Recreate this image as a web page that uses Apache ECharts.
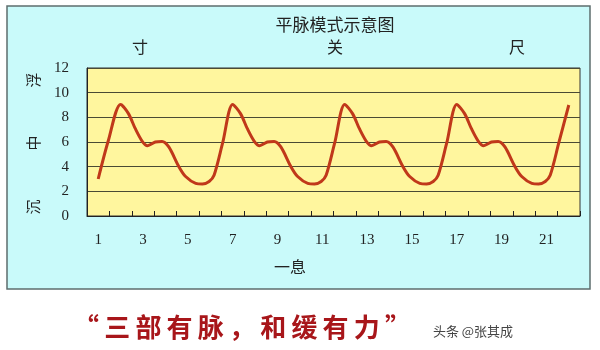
<!DOCTYPE html>
<html>
<head>
<meta charset="utf-8">
<script src="https://cdn.jsdelivr.net/npm/echarts@6/dist/echarts.min.js"></script>
<style>html,body{margin:0;padding:0;background:#fff;}#c{width:600px;height:350px;}</style>
</head>
<body>
<div id="c"></div>
<script>
var categories = ['1','2','3','4','5','6','7','8','9','10','11','12','13','14','15','16','17','18','19','20','21','22'];
var yTicks = {min: 0, max: 12, interval: 2};
var titleText = '平脉模式示意图';
var positionLabels = ['寸', '关', '尺'];
var depthLabels = ['浮', '中', '沉'];
var xName = '一息';
var motto = '“三部有脉，和缓有力”';
var watermark = '头条 @张其成';
// pulse curve: [beat position, value]
var pulsePoints = [
  [1.0,3.0],[1.45,6.1],[2.0,9.05],[2.35,8.3],[2.65,7.1],[2.95,6.1],[3.2,5.7],[3.55,6.0],[3.85,6.05],[4.15,5.6],[4.6,4.0],[4.9,3.2],[5.35,2.65],[5.65,2.6],[5.95,2.8],[6.17,3.3],[6.55,5.9],
  [7.0,9.05],[7.35,8.3],[7.65,7.1],[7.95,6.1],[8.2,5.7],[8.55,6.0],[8.85,6.05],[9.15,5.6],[9.6,4.0],[9.9,3.2],[10.35,2.65],[10.65,2.6],[10.95,2.8],[11.17,3.3],[11.55,5.9],
  [12.0,9.05],[12.35,8.3],[12.65,7.1],[12.95,6.1],[13.2,5.7],[13.55,6.0],[13.85,6.05],[14.15,5.6],[14.6,4.0],[14.9,3.2],[15.35,2.65],[15.65,2.6],[15.95,2.8],[16.17,3.3],[16.55,5.9],
  [17.0,9.05],[17.35,8.3],[17.65,7.1],[17.95,6.1],[18.2,5.7],[18.55,6.0],[18.85,6.05],[19.15,5.6],[19.6,4.0],[19.9,3.2],[20.35,2.65],[20.65,2.6],[20.95,2.8],[21.17,3.3],[21.55,5.9],
  [22.0,9.0]
];

var chart = echarts.init(document.getElementById('c'), null, {renderer: 'canvas'});
var cjk = '"Noto Sans CJK SC", sans-serif';
var serif = '"Liberation Serif", "DejaVu Serif", serif';

function txt(t, x, y, size, extra) {
  var o = {type: 'text', x: x, y: y, z: 10, style: {text: t, fill: '#222', font: size + 'px ' + cjk, textAlign: 'center', textVerticalAlign: 'middle'}};
  if (extra) { for (var k in extra) o[k] = extra[k]; }
  return o;
}

var graphics = [
  {type: 'rect', shape: {x: 7, y: 6, width: 583, height: 283}, style: {fill: '#C9FAFA', stroke: '#5E6E6E', lineWidth: 1.5}, z: -10, silent: true},
  txt(titleText, 335, 25, 17),
  txt(positionLabels[0], 140, 47, 16),
  txt(positionLabels[1], 335, 47, 16),
  txt(positionLabels[2], 517, 47, 16),
  txt(depthLabels[0], 33, 80, 15, {rotation: Math.PI / 2}),
  txt(depthLabels[1], 33, 143, 15, {rotation: Math.PI / 2}),
  txt(depthLabels[2], 33, 207, 15, {rotation: Math.PI / 2}),
  txt(xName, 290, 267, 16),
  {type: 'text', x: 242, y: 327, z: 10, style: {text: motto.split('').join('\u2009'), fill: '#A8161A', font: 'bold 26px ' + cjk, textAlign: 'center', textVerticalAlign: 'middle'}},
  {type: 'text', x: 473, y: 331, z: 10, style: {text: watermark, fill: '#444', font: '13px ' + cjk, textAlign: 'center', textVerticalAlign: 'middle'}}
];

chart.setOption({
  animation: false,
  backgroundColor: '#ffffff',
  grid: {left: 87, top: 68, right: 20, bottom: 134, show: true, backgroundColor: '#FFF69E', borderColor: '#333', borderWidth: 1},
  graphic: graphics,
  xAxis: [
    {type: 'category', data: categories, boundaryGap: true,
     axisLine: {lineStyle: {color: '#222', width: 1}},
     axisTick: {show: true, inside: true, length: 5, interval: 0, lineStyle: {color: '#222'}},
     axisLabel: {interval: 1, margin: 17, color: '#222', fontSize: 15, fontFamily: serif},
     splitLine: {show: false}},
    {type: 'value', min: 0.5, max: 22.5, show: false}
  ],
  yAxis: {type: 'value', min: yTicks.min, max: yTicks.max, interval: yTicks.interval,
    axisLine: {show: true, lineStyle: {color: '#222'}},
    axisTick: {show: false},
    axisLabel: {margin: 18, color: '#222', fontSize: 15, fontFamily: serif},
    splitLine: {show: true, lineStyle: {color: '#4A4A34', width: 1}}},
  series: [{
    type: 'line', xAxisIndex: 1, data: pulsePoints, smooth: 0.3, symbol: 'none',
    lineStyle: {color: '#C0381A', width: 3}
  }]
});
</script>
</body>
</html>
